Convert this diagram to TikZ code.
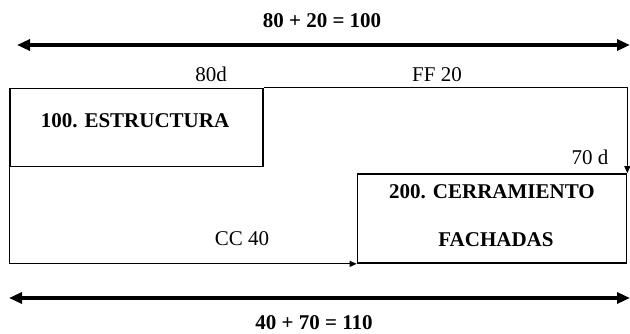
\documentclass[tikz,border=0pt]{standalone}
\usepackage{fontspec}
\setmainfont{Liberation Serif}
\usetikzlibrary{arrows.meta}
\begin{document}
\begin{tikzpicture}[x=1pt,y=-1pt,
  box/.style={draw,line width=1.7pt,inner sep=0pt},
  lbl/.style={inner sep=0pt,anchor=base,font=\fontsize{21}{24}\selectfont},
  btxt/.style={inner sep=0pt,anchor=base,font=\fontsize{21}{24}\selectfont\bfseries},
  dim/.style={line width=3.8pt,{Triangle[length=13pt,width=11pt]}-{Triangle[length=13pt,width=11pt]}},
  conn/.style={line width=1pt,-{Triangle[length=7pt,width=6pt]}}]
\useasboundingbox (0,0) rectangle (630,334);
% dimension arrows
\node[btxt] (ttop) at (322,28) {80 + 20 = 100};
\coordinate (tl) at (17,45);
\coordinate (tr) at (630,45);
\draw[dim] (tl) -- (tr);
\node[btxt] (tbot) at (314,329) {40 + 70 = 110};
\coordinate (bl) at (9,298);
\coordinate (br) at (630,298);
\draw[dim] (bl) -- (br);
% boxes
\node[box,minimum width=253pt,minimum height=78pt] (b1) at (136.5,127.5) {};
\node[box,minimum width=269pt,minimum height=89pt] (b2) at (492,218.5) {};
\node[btxt] (b1t) at (135,128) {100. ESTRUCTURA};
\node[btxt] (b2t) at (492,199) {200. CERRAMIENTO};
\node[btxt] (b2u) at (496,247) {FACHADAS};
% connectors
\draw[conn] (b1.north east) -| (b2.north east);
\draw[conn] (b1.south west) |- (b2.south west);
% labels
\node[lbl] (l1) at (211,82) {80d};
\node[lbl] (l2) at (437,82) {FF 20};
\node[lbl] (l3) at (590,165) {70 d};
\node[lbl] (l4) at (242,246) {CC 40};
\end{tikzpicture}
\end{document}
